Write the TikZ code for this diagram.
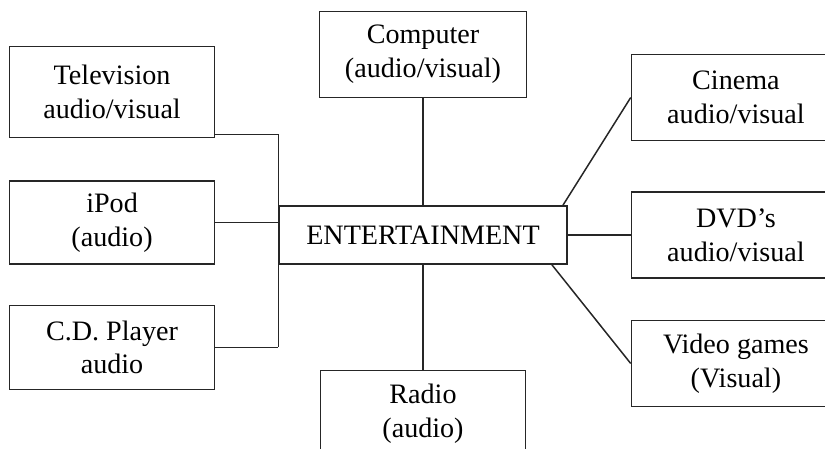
\documentclass[tikz,border=0pt]{standalone}
\usepackage{fontspec}
\setmainfont{Liberation Serif}
\usetikzlibrary{positioning}

\begin{document}
\begin{tikzpicture}[x=0.02cm, y=-0.02cm, line width=0.85pt, draw=black!85, box/.style = {rectangle, draw, align=center, inner sep=0, minimum width=41mm, minimum height=17.2mm, font=\fontsize{16pt}{19.2pt}\selectfont}]

\useasboundingbox (0,0) rectangle (825,449);

\node[box, minimum width=57.6mm, minimum height=11.6mm](ent) at (423,235){ENTERTAINMENT};
\node[box, above=21.4mm of ent, minimum width=41.4mm](comp){Computer\\(audio/visual)};
\node[box, below=21mm of ent](radio){Radio\\(audio)};
\node[box, right=12.6mm of ent, minimum width=41.8mm](dvd){DVD’s\\audio/visual};
\node[box, above=10mm of dvd, minimum width=41.8mm](cinema){Cinema\\audio/visual};
\node[box, below=8.2mm of dvd, minimum width=41.8mm](video){Video games\\(Visual)};
\node[box, left=12.6mm of ent, yshift=2.5mm, minimum height=16.6mm](ipod){iPod\\(audio)};
\node[box, above=8.4mm of ipod, minimum height=18.2mm](tv){Television\\audio/visual};
\node[box, below=8mm of ipod, minimum height=16.8mm](cd){C.D. Player\\audio};

\coordinate[yshift=0.8mm](tvout) at (tv.south east);
\coordinate(bustop) at (tvout -| ent.west);
\coordinate(busbot) at (cd.east -| ent.west);

\draw [-] (tvout) to (bustop);
\draw [-] (bustop) to (busbot);
\draw [-] (cd.east) to (busbot);
\draw [-] (ipod.east) to (ipod.east -| ent.west);
\draw [-] (comp) to (ent);
\draw [-] (ent) to (radio);
\draw [-] (ent.east) to (ent.east -| dvd.west);
\draw [-] (ent.12.5) to (cinema.west);
\draw [-] (ent.-13) to (video.west);

\end{tikzpicture}
\end{document}
